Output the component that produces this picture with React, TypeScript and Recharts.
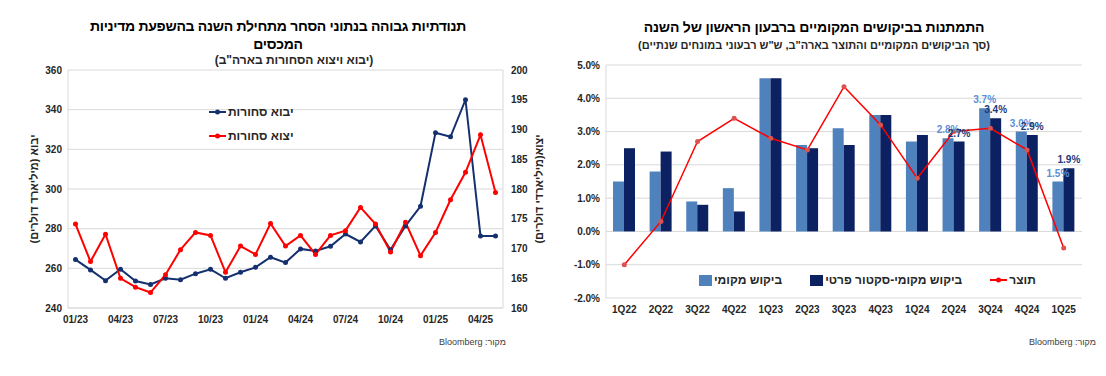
import {
  Bar,
  CartesianGrid,
  ComposedChart,
  LabelList,
  Legend,
  Line,
  LineChart,
  XAxis,
  YAxis
} from 'recharts';

// --- שמאל: יבוא ויצוא סחורות (מיליארד דולר) ---
const months = [
  '01/23', '02/23', '03/23', '04/23', '05/23', '06/23', '07/23', '08/23', '09/23', '10/23', '11/23', '12/23',
  '01/24', '02/24', '03/24', '04/24', '05/24', '06/24', '07/24', '08/24', '09/24', '10/24', '11/24', '12/24',
  '01/25', '02/25', '03/25', '04/25', '05/25'
];
const goodsImports = [
  264.4, 259.2, 253.8, 259.5, 253.6, 251.9, 255.0, 254.3, 257.3, 259.5, 255.0, 258.0,
  260.5, 265.6, 262.9, 269.8, 268.8, 271.1, 277.3, 273.3, 281.4, 269.4, 281.4, 291.3,
  328.4, 326.3, 345.0, 276.3, 276.3
];
const goodsExports = [
  174.1, 167.8, 172.4, 165.0, 163.5, 162.6, 165.6, 169.8, 172.7, 172.2, 166.0, 170.4,
  169.0, 174.2, 170.4, 172.2, 169.0, 172.2, 173.0, 176.9, 174.1, 169.4, 174.4, 168.8,
  172.7, 178.2, 182.8, 189.1, 179.4
];
const importTicks = [240, 260, 280, 300, 320, 340, 360];
const exportTicks = [160, 165, 170, 175, 180, 185, 190, 195, 200];

// --- ימין: ביקושים מקומיים ותוצר (%) ---
const quarters = ['1Q22', '2Q22', '3Q22', '4Q22', '1Q23', '2Q23', '3Q23', '4Q23', '1Q24', '2Q24', '3Q24', '4Q24', '1Q25'];
const domestic = [1.5, 1.8, 0.9, 1.3, 4.6, 2.6, 3.1, 3.5, 2.7, 2.8, 3.7, 3.0, 1.5];
const privateDomestic = [2.5, 2.4, 0.8, 0.6, 4.6, 2.5, 2.6, 3.5, 2.9, 2.7, 3.4, 2.9, 1.9];
const gdp = [-1.0, 0.3, 2.7, 3.4, 2.8, 2.45, 4.35, 3.2, 1.6, 3.0, 3.1, 2.45, -0.5];
const pctTicks = [-2, -1, 0, 1, 2, 3, 4, 5];
const labelFrom = 9; // תוויות רק לארבעת הרבעונים האחרונים

const FONT = "'Liberation Sans', Arial, sans-serif";
const NAVY = '#14306e';
const RED = '#ff0000';
const LIGHT_BAR = '#4f81bd';
const DARK_BAR = '#0b2161';
const GRID = '#d9d9d9';
const TEXT = '#262626';

const tradeData = months.map((month, i) => ({
  month,
  imports: goodsImports[i],
  exports: goodsExports[i]
}));

const demandData = quarters.map((quarter, i) => ({
  quarter,
  domestic: domestic[i],
  privateDomestic: privateDomestic[i],
  gdp: gdp[i],
  domesticLabel: i >= labelFrom ? domestic[i] : null,
  privateLabel: i >= labelFrom ? privateDomestic[i] : null
}));

const tickStyle = { fontSize: 10, fontWeight: 700, fill: TEXT, fontFamily: FONT };
const axisTitleStyle = { textAnchor: 'middle', direction: 'rtl', fontSize: 11, fontWeight: 700, fill: TEXT, fontFamily: FONT };

const LineIcon = ({ color }: { color: string }) => (
  <svg width={17} height={10} style={{ display: 'block' }}>
    <line x1={0} y1={5} x2={17} y2={5} stroke={color} strokeWidth={2} />
    <circle cx={8.5} cy={5} r={2.5} fill={color} />
  </svg>
);

const tradeLegend = [
  { name: 'יבוא סחורות', color: NAVY },
  { name: 'יצוא סחורות', color: RED }
];

const TradeLegend = () => (
  <div style={{ fontFamily: FONT }}>
    {tradeLegend.map((item) => (
      <div key={item.name} style={{ display: 'flex', alignItems: 'center', height: 24, gap: 2 }}>
        <LineIcon color={item.color} />
        <span dir="rtl" style={{ fontSize: 12, fontWeight: 700, color: TEXT }}>{item.name}</span>
      </div>
    ))}
  </div>
);

const demandLegend = [
  { name: 'ביקוש מקומי', color: LIGHT_BAR, kind: 'box' },
  { name: 'ביקוש מקומי-סקטור פרטי', color: DARK_BAR, kind: 'box' },
  { name: 'תוצר', color: RED, kind: 'line' }
];

const DemandLegend = () => (
  <div style={{ display: 'flex', alignItems: 'center', gap: 28, fontFamily: FONT }}>
    {demandLegend.map((item) => (
      <div key={item.name} style={{ display: 'flex', alignItems: 'center', gap: 2 }}>
        {item.kind === 'box' ? (
          <span style={{ width: 13, height: 11, background: item.color, display: 'inline-block' }} />
        ) : (
          <LineIcon color={item.color} />
        )}
        <span dir="rtl" style={{ fontSize: 12, fontWeight: 700, color: TEXT }}>{item.name}</span>
      </div>
    ))}
  </div>
);

const barLabel = (color: string) => (props: any) => {
  const { x, y, width, value } = props;
  if (value === null || value === undefined) return null;
  return (
    <text
      x={Number(x) + Number(width) / 2}
      y={Number(y) - 5}
      textAnchor="middle"
      fill={color}
      fontSize={10}
      fontWeight={700}
      fontFamily={FONT}
    >
      {Number(value).toFixed(1)}%
    </text>
  );
};

export default function App() {
  return (
    <div style={{ position: 'absolute', left: 0, top: 0, width: 1106, height: 376, background: '#fff', fontFamily: FONT }}>
      {/* כותרת שמאל */}
      <div dir="rtl" style={{ position: 'absolute', left: 0, top: 17, width: 556, textAlign: 'center', fontSize: 14, letterSpacing: -0.3, fontWeight: 700, lineHeight: '18px', color: '#000' }}>
        תנודתיות גבוהה בנתוני הסחר מתחילת השנה בהשפעת מדיניות
        <br />
        המכסים
      </div>
      <div dir="rtl" style={{ position: 'absolute', left: 0, top: 52, width: 588, textAlign: 'center', fontSize: 12, fontWeight: 700, lineHeight: '16px', color: TEXT }}>
        (יבוא ויצוא הסחורות בארה"ב)
      </div>

      <div style={{ position: 'absolute', left: 0, top: 0 }}>
        <LineChart width={560} height={340} data={tradeData} margin={{ top: 70, right: 17, bottom: 2, left: 28 }}>
          <CartesianGrid yAxisId="left" vertical={false} stroke={GRID} />
          <XAxis
            dataKey="month"
            scale="point"
            padding={{ left: 7.5, right: 7.5 }}
            interval={2}
            height={30}
            tickLine={false}
            axisLine={{ stroke: GRID }}
            tick={tickStyle}
          />
          <YAxis
            yAxisId="left"
            domain={[240, 360]}
            ticks={importTicks}
            width={40}
            tickLine={false}
            tickSize={4}
            axisLine={{ stroke: GRID }}
            tick={tickStyle}
            label={{ value: 'יבוא (מיליארד דולרים)', angle: -90, position: 'insideLeft', offset: 6, style: axisTitleStyle }}
          />
          <YAxis
            yAxisId="right"
            orientation="right"
            domain={[160, 200]}
            ticks={exportTicks}
            width={40}
            tickLine={false}
            axisLine={{ stroke: GRID }}
            tick={tickStyle}
            label={{ value: 'יצוא(מיליארדי דולרים)', angle: -90, position: 'insideRight', offset: 4, style: axisTitleStyle }}
          />
          <Legend
            layout="horizontal"
            verticalAlign="middle"
            align="center"
            content={() => <TradeLegend />}
            wrapperStyle={{ top: 100, left: 209, width: 120 }}
          />
          <Line
            yAxisId="left"
            type="linear"
            dataKey="imports"
            stroke={NAVY}
            strokeWidth={2}
            dot={{ r: 2.5, fill: NAVY, stroke: NAVY, strokeWidth: 0 }}
            isAnimationActive={false}
          />
          <Line
            yAxisId="right"
            type="linear"
            dataKey="exports"
            stroke={RED}
            strokeWidth={2}
            dot={{ r: 2.5, fill: RED, stroke: RED, strokeWidth: 0 }}
            isAnimationActive={false}
          />
        </LineChart>
      </div>
      <div dir="rtl" style={{ position: 'absolute', right: 1106 - 506, top: 337, fontSize: 9, color: '#404040' }}>
        מקור: Bloomberg
      </div>

      {/* כותרת ימין */}
      <div dir="rtl" style={{ position: 'absolute', left: 560, top: 18, width: 508, textAlign: 'center', fontSize: 14, letterSpacing: -0.2, fontWeight: 700, lineHeight: '18px', color: '#000' }}>
        התמתנות בביקושים המקומיים ברבעון הראשון של השנה
      </div>
      <div dir="rtl" style={{ position: 'absolute', left: 560, top: 37, width: 508, textAlign: 'center', fontSize: 11, fontWeight: 700, lineHeight: '16px', color: TEXT }}>
        (סך הביקושים המקומיים והתוצר בארה"ב, ש"ש רבעוני במונחים שנתיים)
      </div>

      <div style={{ position: 'absolute', left: 560, top: 0 }}>
        <ComposedChart width={546} height={340} data={demandData} margin={{ top: 65, right: 24, bottom: 12, left: 6 }} barGap={0}>
          <CartesianGrid yAxisId="pct" vertical={false} stroke={GRID} />
          <XAxis dataKey="quarter" height={30} tickLine={false} axisLine={false} tick={tickStyle} />
          <YAxis
            yAxisId="pct"
            domain={[-2, 5]}
            ticks={pctTicks}
            width={40}
            tickLine={false}
            tickSize={4}
            axisLine={{ stroke: GRID }}
            tick={tickStyle}
            tickFormatter={(v: number) => `${v.toFixed(1)}%`}
          />
          <YAxis yAxisId="frame" orientation="right" width={0} tick={false} tickLine={false} axisLine={{ stroke: GRID }} />
          <Legend
            layout="horizontal"
            verticalAlign="middle"
            align="center"
            content={() => <DemandLegend />}
            wrapperStyle={{ top: 273, left: 139, width: 380 }}
          />
          <Bar yAxisId="pct" dataKey="domestic" fill={LIGHT_BAR} barSize={11} isAnimationActive={false}>
            <LabelList dataKey="domesticLabel" content={barLabel('#5b8fd6')} />
          </Bar>
          <Bar yAxisId="pct" dataKey="privateDomestic" fill={DARK_BAR} barSize={11} isAnimationActive={false}>
            <LabelList dataKey="privateLabel" content={barLabel('#1f3a78')} />
          </Bar>
          <Line
            yAxisId="pct"
            type="linear"
            dataKey="gdp"
            stroke={RED}
            strokeWidth={1.5}
            dot={{ r: 2.5, fill: '#d9534f', stroke: '#d9534f', strokeWidth: 0 }}
            isAnimationActive={false}
          />
        </ComposedChart>
      </div>
      <div dir="rtl" style={{ position: 'absolute', right: 1106 - 1096, top: 337, fontSize: 9, color: '#404040' }}>
        מקור: Bloomberg
      </div>
    </div>
  );
}
